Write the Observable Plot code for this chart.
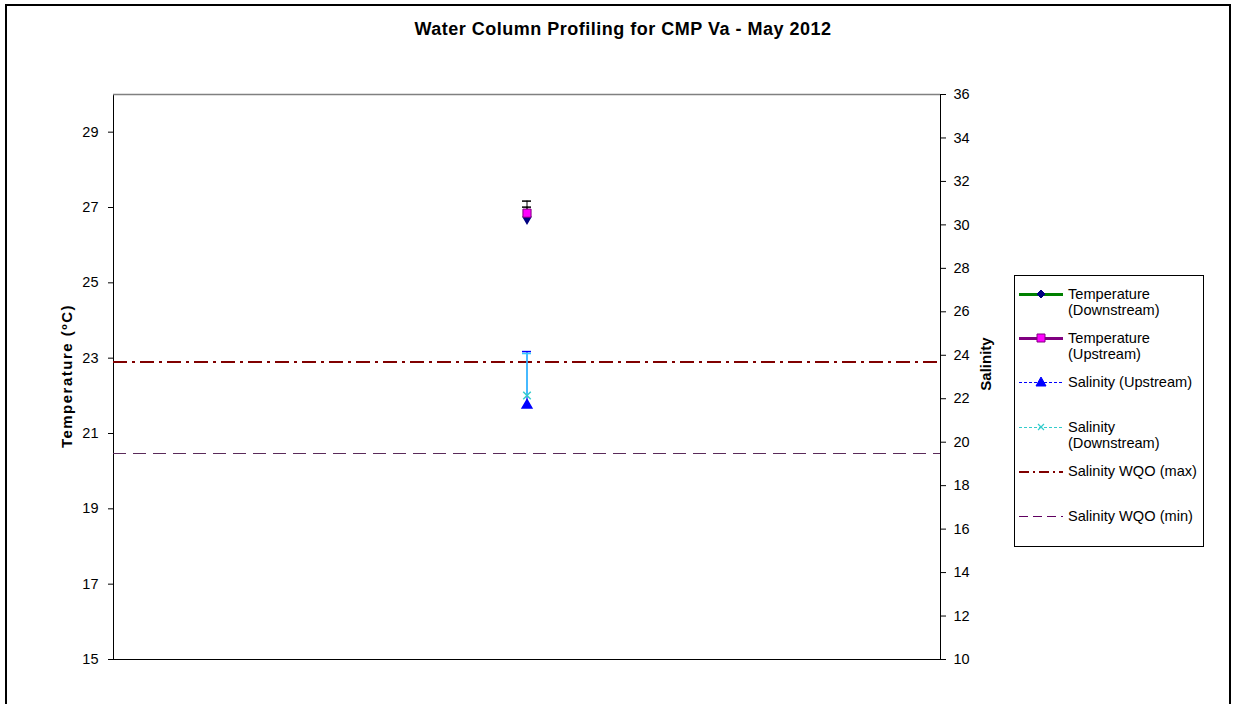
<!DOCTYPE html>
<html>
<head>
<meta charset="utf-8">
<script src="https://cdn.jsdelivr.net/npm/d3@7"></script>
<script src="https://cdn.jsdelivr.net/npm/@observablehq/plot@0.6"></script>
<style>
  html, body { margin: 0; padding: 0; background: #fff; }
  body { font-family: "Liberation Sans", Arial, sans-serif; }
  #wrap { position: relative; width: 1238px; height: 704px; overflow: hidden; }
  #border { position: absolute; left: 5px; top: 4px; width: 1226px; height: 720px; border: 2px solid #000; box-sizing: border-box; }
  #chart { position: absolute; left: 0; top: 0; }
  #title { position: absolute; left: 0; width: 1246px; top: 19px; text-align: center; font-weight: bold; font-size: 18px; letter-spacing: 0.5px; color: #000; }
  .ylab { position: absolute; font-weight: bold; font-size: 15px; white-space: nowrap; transform: translate(-50%, -50%) rotate(-90deg); }
  #legend { position: absolute; left: 1014px; top: 275px; width: 190px; height: 272px; border: 1px solid #000; box-sizing: border-box; background: #fff; }
  .item { position: absolute; left: 3px; display: flex; align-items: flex-start; font-size: 14.6px; line-height: 16px; }
  .item svg { flex: none; margin-right: 4px; }
</style>
</head>
<body>
<div id="wrap">
  <div id="border"></div>
  <div id="chart"></div>
  <div id="title">Water Column Profiling for CMP Va - May 2012</div>
  <div class="ylab" style="left:66px; top:376px; letter-spacing:1.5px;">Temperature (ºC)</div>
  <div class="ylab" style="left:985px; top:364px;">Salinity</div>
  <div id="legend"></div>
</div>
<script>
// ---- data ----
const category = ["May 2012"];
const tempDownstream = [26.75];
const tempDownstreamHigh = [27.01];
const tempUpstream = [26.85];
const tempUpstreamHigh = [27.17];
const salUpstream = [21.7];
const salUpstreamHigh = [24.17];
const salDownstream = [22.15];
const salDownstreamHigh = [24.08];
const salWqoMax = [23.7];
const salWqoMin = [19.5];
const tempTicks = [15, 17, 19, 21, 23, 25, 27, 29];
const salTicks = [10, 12, 14, 16, 18, 20, 22, 24, 26, 28, 30, 32, 34, 36];
const tempDomain = [15, 30];
const salDomain = [10, 36];

// salinity -> temperature-axis units
const toT = s => tempDomain[0] + (s - salDomain[0]) * (tempDomain[1] - tempDomain[0]) / (salDomain[1] - salDomain[0]);
const fromT = t => salDomain[0] + (t - tempDomain[0]) * (salDomain[1] - salDomain[0]) / (tempDomain[1] - tempDomain[0]);

const rows = category.map((c, i) => ({
  c,
  tD: tempDownstream[i], tDH: tempDownstreamHigh[i],
  tU: tempUpstream[i], tUH: tempUpstreamHigh[i],
  sU: toT(salUpstream[i]), sUH: toT(salUpstreamHigh[i]),
  sD: toT(salDownstream[i]), sDH: toT(salDownstreamHigh[i])
}));

const chart = Plot.plot({
  width: 1238,
  height: 704,
  marginLeft: 113,
  marginRight: 298,
  marginTop: 94,
  marginBottom: 45,
  style: { fontFamily: "'Liberation Sans', Arial, sans-serif", fontSize: "14px", color: "#000", background: "transparent" },
  x: { type: "band", domain: category, paddingInner: 0, paddingOuter: 45, axis: null },
  y: { domain: tempDomain, label: null },
  marks: [
    Plot.frame({ stroke: "#000" }),
    Plot.ruleY([tempDomain[1]], { stroke: "#808080", strokeWidth: 1.5 }),
    Plot.axisY(tempTicks, { anchor: "left", tickSize: 5, tickPadding: 10, fontSize: 14.5, label: null, stroke: "#000" }),
    Plot.axisY(salTicks.map(toT), { anchor: "right", tickSize: 5, tickPadding: 8, fontSize: 14.5, label: null, tickFormat: d => String(Math.round(fromT(d))) }),
    Plot.ruleY(salWqoMax.map(toT), { stroke: "#800000", strokeWidth: 2, strokeDasharray: "14,5,3,5", shapeRendering: "crispEdges" }),
    Plot.ruleY(salWqoMin.map(toT), { stroke: "#5a2a5a", strokeWidth: 1, strokeDasharray: "13,7", shapeRendering: "crispEdges" }),
    // temperature error bars
    Plot.ruleX(rows, { x: "c", y1: "tD", y2: "tDH", stroke: "#000", strokeWidth: 1 }),
    Plot.tickY(rows, { x: "c", y: "tDH", stroke: "#000", strokeWidth: 1.5 }),
    Plot.ruleX(rows, { x: "c", y1: "tU", y2: "tUH", stroke: "#000", strokeWidth: 1 }),
    Plot.tickY(rows, { x: "c", y: "tUH", stroke: "#000", strokeWidth: 1.5 }),
    // salinity error bars
    Plot.ruleX(rows, { x: "c", y1: "sU", y2: "sUH", stroke: "#0000ff", strokeWidth: 1 }),
    Plot.tickY(rows, { x: "c", y: "sUH", stroke: "#0000ff", strokeWidth: 1.5 }),
    Plot.ruleX(rows, { x: "c", y1: "sD", y2: "sDH", stroke: "#33ccff", strokeWidth: 1.5 }),
    Plot.tickY(rows, { x: "c", y: "sDH", stroke: "#33ccff", strokeWidth: 1.5 }),
    // markers
    Plot.dot(rows, { x: "c", y: "tD", symbol: "diamond", r: 4, fill: "#000080", stroke: "#000080" }),
    Plot.dot(rows, { x: "c", y: "tU", symbol: "square", r: 4.6, fill: "#ff00ff", stroke: "#800080", strokeWidth: 1 }),
    Plot.dot(rows, { x: "c", y: "sU", symbol: "triangle", r: 3.6, fill: "#0000ff", stroke: "#0000ff" }),
    Plot.dot(rows, { x: "c", y: "sD", symbol: "times", r: 3.5, stroke: "#33cccc", strokeWidth: 1.5 })
  ]
});
document.getElementById("chart").appendChild(chart);

// ---- legend ----
const legendItems = [
  { lines: ["Temperature", "(Downstream)"], top: 10, stroke: "#008000", w: 3.5, dash: null, sym: "diamond", fill: "#000080", sstroke: "#000080" },
  { lines: ["Temperature", "(Upstream)"], top: 54, stroke: "#800080", w: 3, dash: null, sym: "square", fill: "#ff00ff", sstroke: "#800080" },
  { lines: ["Salinity (Upstream)"], top: 98, stroke: "#0000ff", w: 1, dash: "3,2", sym: "triangle", fill: "#0000ff", sstroke: "#0000ff" },
  { lines: ["Salinity", "(Downstream)"], top: 143, stroke: "#33cccc", w: 1, dash: "3,2", sym: "times", fill: "none", sstroke: "#33cccc" },
  { lines: ["Salinity WQO (max)"], top: 187, stroke: "#800000", w: 2, dash: "10,4,2,4", sym: null },
  { lines: ["Salinity WQO (min)"], top: 232, stroke: "#600060", w: 1, dash: "9,5", sym: null }
];
const legend = document.getElementById("legend");
const NS = "http://www.w3.org/2000/svg";
function symbolPath(sym) {
  const cx = 23, cy = 8;
  if (sym === "diamond") return `M${cx},${cy-4}L${cx+4},${cy}L${cx},${cy+4}L${cx-4},${cy}Z`;
  if (sym === "square") return `M${cx-4},${cy-4}h8v8h-8Z`;
  if (sym === "triangle") return `M${cx},${cy-5}L${cx+5},${cy+4}L${cx-5},${cy+4}Z`;
  if (sym === "times") return `M${cx-3},${cy-3}L${cx+3},${cy+3}M${cx+3},${cy-3}L${cx-3},${cy+3}`;
  return "";
}
for (const it of legendItems) {
  const div = document.createElement("div");
  div.className = "item";
  div.style.top = it.top + "px";
  const svg = document.createElementNS(NS, "svg");
  svg.setAttribute("width", 46);
  svg.setAttribute("height", 16);
  svg.setAttribute("shape-rendering", "crispEdges");
  const ln = document.createElementNS(NS, "line");
  ln.setAttribute("x1", 1); ln.setAttribute("x2", 45);
  ln.setAttribute("y1", 8.5); ln.setAttribute("y2", 8.5);
  ln.setAttribute("stroke", it.stroke);
  ln.setAttribute("stroke-width", it.w);
  if (it.dash) ln.setAttribute("stroke-dasharray", it.dash);
  svg.appendChild(ln);
  if (it.sym) {
    const p = document.createElementNS(NS, "path");
    p.setAttribute("d", symbolPath(it.sym));
    p.setAttribute("fill", it.fill);
    p.setAttribute("stroke", it.sstroke);
    p.setAttribute("stroke-width", it.sym === "times" ? 1.2 : 1);
    p.setAttribute("shape-rendering", "auto");
    svg.appendChild(p);
  }
  div.appendChild(svg);
  const txt = document.createElement("div");
  txt.innerHTML = it.lines.join("<br>");
  div.appendChild(txt);
  legend.appendChild(div);
}
</script>
</body>
</html>
